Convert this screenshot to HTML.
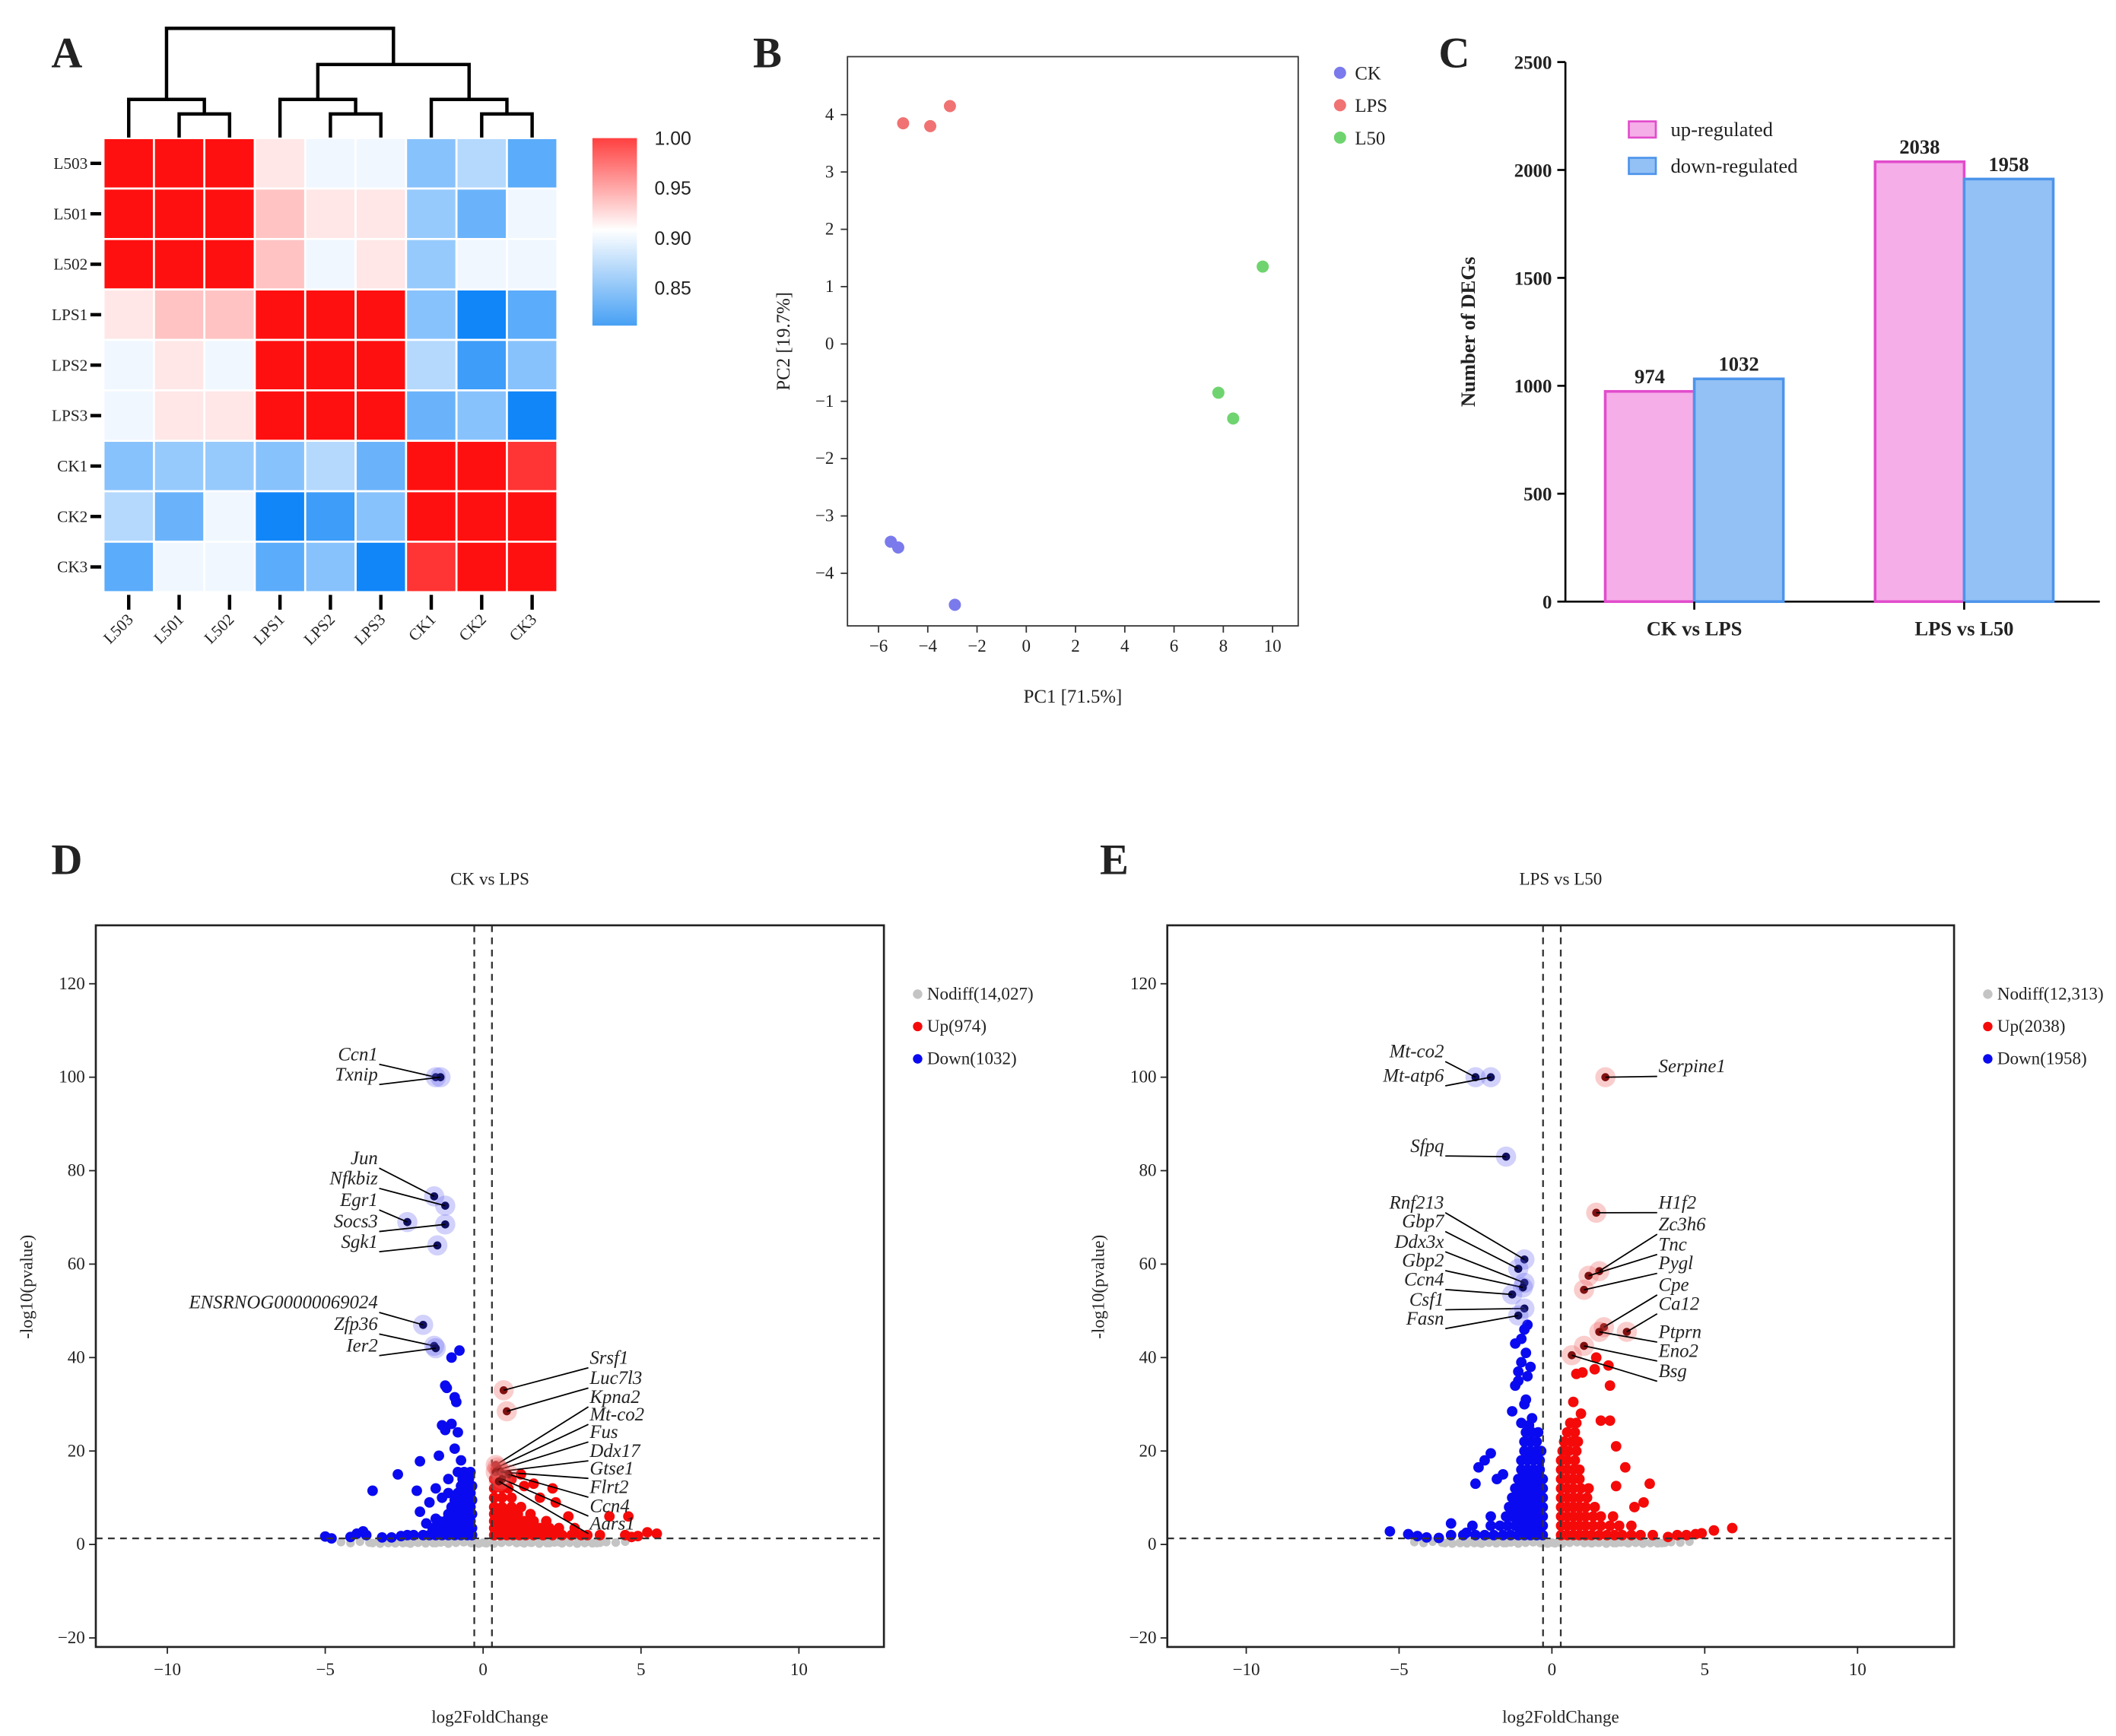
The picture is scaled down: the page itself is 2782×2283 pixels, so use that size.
<!DOCTYPE html>
<html><head><meta charset="utf-8">
<style>
html,body{margin:0;padding:0;background:#fff;}
svg{display:block;}
text{font-family:"Liberation Serif",serif;fill:#222;}
.sans{font-family:"Liberation Sans",sans-serif;}
</style></head>
<body>
<svg id="fig" xmlns="http://www.w3.org/2000/svg" width="2782" height="2283" viewBox="0 0 1568 1287" preserveAspectRatio="none"></svg>
<script>
// ---------- Heatmap data ----------
const hmLabels = ["L503","L501","L502","LPS1","LPS2","LPS3","CK1","CK2","CK3"];
const hmRow0 = [1,1,1,0.91,0.895,0.895,0.86,0.875,0.845];
const hmRow1 = [1,1,1,0.925,0.91,0.91,0.865,0.85,0.895];
const hmRow2 = [1,1,1,0.925,0.895,0.91,0.865,0.895,0.895];
const hmRow3 = [0.91,0.925,0.925,1,1,1,0.86,0.82,0.845];
const hmRow4 = [0.895,0.91,0.895,1,1,1,0.875,0.835,0.86];
const hmRow5 = [0.895,0.91,0.91,1,1,1,0.85,0.86,0.82];
const hmRow6 = [0.86,0.865,0.865,0.86,0.875,0.85,1,1,0.985];
const hmRow7 = [0.875,0.85,0.895,0.82,0.835,0.86,1,1,1];
const hmRow8 = [0.845,0.895,0.895,0.845,0.86,0.82,0.985,1,1];
const hmMatrix = [hmRow0,hmRow1,hmRow2,hmRow3,hmRow4,hmRow5,hmRow6,hmRow7,hmRow8];
const cbTicks = [1.00,0.95,0.90,0.85];

// ---------- PCA data ----------
const pcaGroups = ["CK","LPS","L50"];
const pcaCK = [[-5.5,-3.45],[-5.2,-3.55],[-2.9,-4.55]];
const pcaLPS = [[-5.0,3.85],[-3.9,3.8],[-3.1,4.15]];
const pcaL50 = [[9.6,1.35],[7.8,-0.85],[8.4,-1.3]];
const pcaXTicks = [-6,-4,-2,0,2,4,6,8,10];
const pcaYTicks = [-4,-3,-2,-1,0,1,2,3,4];

// ---------- Bar data ----------
const barCats = ["CK vs LPS","LPS vs L50"];
const barUp = [974,2038];
const barDown = [1032,1958];
const barYTicks = [0,500,1000,1500,2000,2500];

// ---------- Volcano data ----------
const volXTicks = [-10,-5,0,5,10];
const volYTicks = [-20,0,20,40,60,80,100,120];
const dDown = [[-5,1.7],[-4.8,1.3],[-4.2,1.6],[-4,2.3],[-3.8,2.8],[-3.7,2],[-3.5,11.5],[-3.2,1.5],[-2.9,1.5],[-2.7,15],[-2.6,1.8],[-2.4,2],[-2.1,11.5],[-2,17.8],[-2,7],[-1.8,4.5],[-1.7,9],[-1.6,2.5],[-1.5,5.5],[-1.5,12],[-1.4,19],[-1.3,10],[-1.3,25.5],[-1.2,24.5],[-1.2,34],[-1.15,33.5],[-1.1,11],[-1.1,14],[-1,40],[-1,25.8],[-0.9,31.5],[-0.85,30.5],[-0.9,20.5],[-0.75,41.5],[-0.8,24],[-0.8,15.5],[-0.7,18],
[-2.2,2],[-1.9,2],[-1.7,2],[-1.5,2],[-1.3,2],[-1.1,2],[-0.9,2],[-0.7,2],[-0.5,2],[-0.35,2],
[-1.6,3.5],[-1.3,3.5],[-1.1,3.5],[-0.9,3.5],[-0.7,3.5],[-0.5,3.5],[-0.35,3.5],
[-1.4,5],[-1.2,5],[-1.0,5],[-0.8,5],[-0.6,5],[-0.4,5],
[-1.1,6.5],[-0.9,6.5],[-0.7,6.5],[-0.5,6.5],[-0.35,6.5],
[-1.0,8],[-0.8,8],[-0.6,8],[-0.4,8],
[-0.9,9.5],[-0.7,9.5],[-0.5,9.5],[-0.35,9.5],
[-0.8,11],[-0.6,11],[-0.4,11],[-0.7,12.5],[-0.5,12.5],[-0.35,12.5],
[-0.65,14],[-0.45,14],[-0.6,15.5],[-0.4,15.5]];
const dUp = [[0.35,2],[0.55,2],[0.75,2],[0.95,2],[1.15,2],[1.35,2],[1.6,2],[1.9,2],[2.2,2],[2.5,2],[2.8,2],[3.1,2],[3.3,2],[3.7,2],[4.5,2],[4.7,1.6],[4.9,1.8],[5.2,2.6],[5.5,2.3],
[0.35,3.5],[0.55,3.5],[0.75,3.5],[0.95,3.5],[1.2,3.5],[1.5,3.5],[1.8,3.5],[2.1,3.5],[2.4,3.5],[2.9,3.5],
[0.35,5],[0.55,5],[0.75,5],[1.0,5],[1.3,5],[1.6,5],[2.0,5],
[0.35,6.5],[0.55,6.5],[0.8,6.5],[1.1,6.5],[1.5,6.5],
[0.35,8],[0.6,8],[0.9,8],[1.2,8],[0.35,10],[0.6,10],[0.9,10],
[0.35,12],[0.6,12],[0.8,12],[0.35,14],[0.55,14],[0.4,16],
[1.3,12.5],[1.6,13],[2.2,12],[2.3,9],[1.8,10],[2.7,6],[4,6],[4.6,6],[1.2,15],[0.9,14]];
const eDown = [[-5.3,2.8],[-4.7,2.2],[-4.4,1.8],[-4.1,1.5],[-3.7,1.4],[-3.3,4.5],[-2.8,2.5],[-2.5,13],[-2.4,16.5],[-2.2,18],[-2,19.5],[-1.8,14],[-1.6,15],[-1.3,28.5],[-1,26],[-0.9,30],[-0.85,31],[-1.2,34],[-0.8,36],[-1.1,37],[-0.7,38],[-1,39],[-0.85,41],[-1.2,43],[-1,44],[-0.9,46],[-0.8,47],[-1.1,35],[-0.75,25.5],[-0.65,27],
[-3.3,2],[-2.9,2],[-2.5,2],[-2.2,2],[-1.9,2],[-1.6,2],[-1.35,2],[-1.1,2],[-0.9,2],[-0.7,2],[-0.5,2],[-0.3,2],
[-2.6,4],[-2.0,4],[-1.7,4],[-1.45,4],[-1.2,4],[-1.0,4],[-0.8,4],[-0.6,4],[-0.4,4],[-0.3,4],
[-2.0,6],[-1.5,6],[-1.3,6],[-1.1,6],[-0.9,6],[-0.7,6],[-0.5,6],[-0.3,6],
[-1.4,8],[-1.2,8],[-1.0,8],[-0.8,8],[-0.6,8],[-0.4,8],[-0.3,8],
[-1.3,10],[-1.1,10],[-0.9,10],[-0.7,10],[-0.5,10],[-0.3,10],
[-1.2,12],[-1.0,12],[-0.8,12],[-0.6,12],[-0.4,12],[-0.3,12],
[-1.1,14],[-0.9,14],[-0.7,14],[-0.5,14],[-0.3,14],
[-1.0,16],[-0.8,16],[-0.6,16],[-0.4,16],[-1.0,18],[-0.8,18],[-0.6,18],[-0.4,18],
[-0.9,20],[-0.7,20],[-0.5,20],[-0.35,20],[-0.9,22],[-0.7,22],[-0.5,22],[-0.85,24],[-0.65,24],[-0.45,24]];
const eUp = [[5.9,3.5],[5.3,3],[4.9,2.4],[3.2,13],[3,9],[2.7,8],[2.4,16.5],[2.1,12.5],[2.1,21],[1.6,26.5],[1.9,26.5],[0.7,30.5],[0.8,36.5],[1,36.8],[1.4,37.5],[1.85,38.3],[1.9,34],[1.45,40],[0.95,28],
[0.3,2],[0.5,2],[0.7,2],[0.9,2],[1.1,2],[1.3,2],[1.55,2],[1.8,2],[2.05,2],[2.3,2],[2.6,2],[2.9,2],[3.3,2],[3.8,1.6],[4.1,2],[4.4,2],[4.7,2.2],
[0.3,4],[0.5,4],[0.7,4],[0.9,4],[1.1,4],[1.35,4],[1.6,4],[1.9,4],[2.2,4],[2.6,4],
[0.3,6],[0.5,6],[0.7,6],[0.9,6],[1.1,6],[1.35,6],[1.6,6],[2.0,6],
[0.3,8],[0.5,8],[0.7,8],[0.9,8],[1.1,8],[1.4,8],
[0.3,10],[0.5,10],[0.7,10],[0.9,10],[1.15,10],
[0.3,12],[0.5,12],[0.7,12],[0.95,12],[1.2,12],
[0.3,14],[0.5,14],[0.7,14],[0.9,14],[0.3,16],[0.5,16],[0.7,16],[0.9,16],
[0.3,18],[0.5,18],[0.75,18],[0.35,20],[0.55,20],[0.8,20],[0.4,22],[0.65,22],[0.85,22],[0.5,24],[0.75,24],[0.6,26],[0.8,26]];
const greyX = [-4.5,-4.2,-3.9,-3.6,-3.3,-3.0,-2.7,-2.4,-2.1,-1.8,-1.5,-1.2,-0.9,-0.6,-0.3,0,0.3,0.6,0.9,1.2,1.5,1.8,2.1,2.4,2.7,3.0,3.3,3.6,3.9,4.2,4.5];
const greyY = [0.5,0.3,0.6,0.4,0.5,0.3,0.6,0.4,0.5,0.7,0.3,0.6,0.8,0.5,0.3,0.4,0.3,0.6,0.8,0.5,0.4,0.6,0.3,0.5,0.7,0.4,0.6,0.3,0.5,0.4,0.6];
const dLabNames = ["Ccn1","Txnip","Jun","Nfkbiz","Egr1","Socs3","Sgk1","ENSRNOG00000069024","Zfp36","Ier2","Srsf1","Luc7l3","Kpna2","Mt-co2","Fus","Ddx17","Gtse1","Flrt2","Ccn4","Aars1"];
const dLabPts = [[-1.5,100],[-1.35,100],[-1.55,74.5],[-1.2,72.5],[-2.4,69],[-1.2,68.5],[-1.45,64],[-1.9,47],[-1.55,42.5],[-1.5,42],[0.65,33],[0.75,28.5],[0.4,17],[0.45,16.5],[0.5,16],[0.4,15.5],[0.55,15.5],[0.8,15],[0.6,14],[0.5,13.5]];
const dLabY = [786,801,863,878,894,910,925,970,986,1002,1011,1026,1040,1053,1066,1080,1093,1107,1121,1134];
const eLabNames = ["Mt-co2","Mt-atp6","Sfpq","Rnf213","Gbp7","Ddx3x","Gbp2","Ccn4","Csf1","Fasn","Serpine1","H1f2","Zc3h6","Tnc","Pygl","Cpe","Ca12","Ptprn","Eno2","Bsg"];
const eLabPts = [[-2.5,100],[-2.0,100],[-1.5,83],[-0.9,61],[-1.1,59],[-0.9,56],[-0.95,55],[-1.3,53.5],[-0.9,50.5],[-1.1,49],[1.75,100],[1.45,71],[1.55,58.5],[1.2,57.5],[1.05,54.5],[1.7,46.5],[2.45,45.5],[1.55,45.5],[1.05,42.5],[0.65,40.5]];
const eLabY = [784,802,854,896,910,925,939,953,968,982,795,896,912,927,941,957,971,992,1006,1021];

const NS = "http://www.w3.org/2000/svg";
const svg = document.getElementById('fig');
function el(tag, attrs, name, parent, interact){
  const e = document.createElementNS(NS, tag);
  for (const k in attrs) e.setAttribute(k, attrs[k]);
  
  
  (parent || svg).appendChild(e);
  return e;
}
function tx(x,y,s,name,attrs,parent){
  const e = el('text', Object.assign({x:x,y:y}, attrs||{}), name, parent);
  e.textContent = s;
  return e;
}

tx(38,50,"A","panel-label-a",{"font-size":32,"font-weight":"bold"});
tx(558,50,"B","panel-label-b",{"font-size":32,"font-weight":"bold"});
tx(1066,50,"C","panel-label-c",{"font-size":32,"font-weight":"bold"});
tx(38,648,"D","panel-label-d",{"font-size":32,"font-weight":"bold"});
tx(815,648,"E","panel-label-e",{"font-size":32,"font-weight":"bold"});

// ---------- Panel A ----------
(function(){
  const g = el('g',{},'correlation-heatmap');
  const L=76.7, T=102.4, cw=(413-76.7)/9, ch=(439-102.4)/9;
  function col(v){
    let r,gg,b;
    if (v>=0.9){ const t=Math.min(1,(v-0.9)/0.1); r=255; gg=Math.round(255-t*(255-16)); b=Math.round(255-t*(255-16)); }
    else { const t=Math.min(1,(0.9-v)/0.08); r=Math.round(255-t*(255-17)); gg=Math.round(255-t*(255-134)); b=Math.round(255-t*(255-248)); }
    return `rgb(${r},${gg},${b})`;
  }
  for (let i=0;i<9;i++) for (let j=0;j<9;j++){
    el('rect',{x:L+j*cw,y:T+i*ch,width:cw,height:ch,fill:col(hmMatrix[i][j]),stroke:"#fff","stroke-width":1.5},'heatmap-cell',g,true);
  }
  for (let i=0;i<9;i++){
    const cy=T+(i+0.5)*ch;
    el('line',{x1:67,y1:cy,x2:75,y2:cy,stroke:"#000","stroke-width":2.5},'row-tick',g);
    tx(65,cy+4,hmLabels[i],'row-label',{"font-size":12,"text-anchor":"end"},g);
    const cx=L+(i+0.5)*cw;
    el('line',{x1:cx,y1:441,x2:cx,y2:452,stroke:"#000","stroke-width":2.5},'col-tick',g);
    tx(cx+4,460,hmLabels[i],'col-label',{"font-size":12,"text-anchor":"end",transform:`rotate(-45 ${cx+4} 460)`},g);
  }
  const c = j=>L+(j+0.5)*cw;
  const d = el('g',{fill:"none",stroke:"#000","stroke-width":2.5},'dendrogram',g);
  const seg = pts=>el('polyline',{points:pts.map(p=>p.join(',')).join(' ')},'dendrogram-branch',d);
  const n12=(c(1)+c(2))/2, nL=(c(0)+n12)/2;
  seg([[c(1),102],[c(1),84.5],[c(2),84.5],[c(2),102]]);
  seg([[c(0),102],[c(0),73.7],[n12,73.7],[n12,84.5]]);
  const n45=(c(4)+c(5))/2, nP=(c(3)+n45)/2;
  seg([[c(4),102],[c(4),84.5],[c(5),84.5],[c(5),102]]);
  seg([[c(3),102],[c(3),73.7],[n45,73.7],[n45,84.5]]);
  const n78=(c(7)+c(8))/2, nC=(c(6)+n78)/2;
  seg([[c(7),102],[c(7),84.5],[c(8),84.5],[c(8),102]]);
  seg([[c(6),102],[c(6),73.7],[n78,73.7],[n78,84.5]]);
  const nR=(nP+nC)/2;
  seg([[nP,73.7],[nP,47.8],[nC,47.8],[nC,73.7]]);
  seg([[nL,73.7],[nL,21],[nR,21],[nR,47.8]]);
  const defs = el('defs',{},'defs',g);
  const lg = el('linearGradient',{id:"cb",x1:0,y1:0,x2:0,y2:1},'colorbar-gradient',defs);
  [["0","#ff4040"],["0.49","#ffffff"],["1","#47a0f4"]].forEach(s=>el('stop',{offset:s[0],"stop-color":s[1]},'gradient-stop',lg));
  el('rect',{x:439,y:102.4,width:33,height:139,fill:"url(#cb)"},'colorbar',g);
  cbTicks.forEach(v=>{
    const y=102.4+(1-v)/0.05*37.0;
    tx(485,y+5,v.toFixed(2),'colorbar-tick-label',{"font-size":14,class:"sans"},g);
  });
})();

// ---------- Panel B ----------
(function(){
  const g = el('g',{},'pca-plot');
  const xs=v=>651+(v+6)*18.25, ys=v=>255-v*42.5;
  el('rect',{x:628,y:42,width:334,height:422,fill:"none",stroke:"#333","stroke-width":1},'pca-axes-frame',g);
  pcaXTicks.forEach(v=>{
    el('line',{x1:xs(v),y1:464,x2:xs(v),y2:469,stroke:"#333"},'x-tick',g);
    tx(xs(v),483,String(v).replace('-','\u2212'),'x-tick-label',{"font-size":13,"text-anchor":"middle"},g);
  });
  pcaYTicks.forEach(v=>{
    el('line',{x1:623,y1:ys(v),x2:628,y2:ys(v),stroke:"#333"},'y-tick',g);
    tx(618,ys(v)+4,String(v).replace('-','\u2212'),'y-tick-label',{"font-size":13,"text-anchor":"end"},g);
  });
  tx(795,521,"PC1 [71.5%]","x-axis-title",{"font-size":14,"text-anchor":"middle"},g);
  tx(585,253,"PC2 [19.7%]","y-axis-title",{"font-size":14,"text-anchor":"middle",transform:"rotate(-90 585 253)"},g);
  const cols={CK:"#7a7aec",LPS:"#f07272",L50:"#6fd46f"};
  const sets={CK:pcaCK,LPS:pcaLPS,L50:pcaL50};
  pcaGroups.forEach((k,i)=>{
    sets[k].forEach(p=>el('circle',{cx:xs(p[0]),cy:ys(p[1]),r:4.5,fill:cols[k]},'pca-point-'+k.toLowerCase(),g,true));
    el('circle',{cx:993,cy:54+i*24,r:4.5,fill:cols[k]},'legend-marker',g);
    tx(1004,59+i*24,k,'legend-entry',{"font-size":14},g);
  });
})();

// ---------- Panel C ----------
(function(){
  const g = el('g',{},'deg-bar-chart');
  const ys=v=>446-v*0.16;
  el('line',{x1:1160,y1:46,x2:1160,y2:446,stroke:"#000","stroke-width":1.5},'y-axis-line',g);
  el('line',{x1:1160,y1:446,x2:1556,y2:446,stroke:"#000","stroke-width":1.5},'x-axis-line',g);
  barYTicks.forEach(v=>{
    el('line',{x1:1154,y1:ys(v),x2:1160,y2:ys(v),stroke:"#000","stroke-width":1.5},'y-tick',g);
    tx(1150,ys(v)+5,String(v),'y-tick-label',{"font-size":14,"font-weight":"bold","text-anchor":"end"},g);
  });
  tx(1093,246,"Number of DEGs","y-axis-title",{"font-size":15,"font-weight":"bold","text-anchor":"middle",transform:"rotate(-90 1093 246)"},g);
  const centers=[1255.5,1455.5], bw=66;
  barCats.forEach((c,i)=>{
    const cx=centers[i];
    el('rect',{x:cx-bw,y:ys(barUp[i]),width:bw,height:446-ys(barUp[i]),fill:"#f5aee8",stroke:"#e24ccc","stroke-width":2},'bar-up-'+i,g,true);
    el('rect',{x:cx,y:ys(barDown[i]),width:bw,height:446-ys(barDown[i]),fill:"#93c1f5",stroke:"#4d94ea","stroke-width":2},'bar-down-'+i,g,true);
    tx(cx-bw/2,ys(barUp[i])-6,String(barUp[i]),'bar-value',{"font-size":15,"font-weight":"bold","text-anchor":"middle"},g);
    tx(cx+bw/2,ys(barDown[i])-6,String(barDown[i]),'bar-value',{"font-size":15,"font-weight":"bold","text-anchor":"middle"},g);
    el('line',{x1:cx,y1:446,x2:cx,y2:452,stroke:"#000","stroke-width":1.5},'x-tick',g);
    tx(cx,471,c,'x-tick-label',{"font-size":15,"font-weight":"bold","text-anchor":"middle"},g);
  });
  el('rect',{x:1207,y:90,width:20,height:12,fill:"#f5aee8",stroke:"#e24ccc","stroke-width":1.5},'legend-swatch-up',g);
  tx(1238,101,"up-regulated",'legend-entry',{"font-size":15},g);
  el('rect',{x:1207,y:117,width:20,height:12,fill:"#93c1f5",stroke:"#4d94ea","stroke-width":1.5},'legend-swatch-down',g);
  tx(1238,128,"down-regulated",'legend-entry',{"font-size":15},g);
})();

// ---------- Volcano ----------
function volcano(o){
  const g = el('g',{},o.name);
  const xs=v=>o.x0+v*o.k, ys=v=>1145-v*3.464;
  const clip = el('clipPath',{id:o.name+'-clip'},'clip',g);
  el('rect',{x:o.L,y:686,width:o.R-o.L,height:535},'clip-rect',clip);
  const pg = el('g',{"clip-path":`url(#${o.name}-clip)`},'plot-area',g);
  greyX.forEach((x,i)=>el('circle',{cx:xs(x),cy:ys(greyY[i]),r:3.2,fill:"#c4c4c4"},'point-nodiff',pg));
  greyX.forEach((x,i)=>el('circle',{cx:xs(x*0.8+0.1),cy:ys(greyY[i]*0.6),r:3.2,fill:"#c4c4c4"},'point-nodiff',pg));
  o.down.forEach(p=>el('circle',{cx:xs(p[0]),cy:ys(p[1]),r:3.9,fill:"#0a0af0"},'point-down',pg));
  o.up.forEach(p=>el('circle',{cx:xs(p[0]),cy:ys(p[1]),r:3.9,fill:"#f50a0a"},'point-up',pg));
  el('line',{x1:xs(-o.fc),y1:686,x2:xs(-o.fc),y2:1221,stroke:"#333","stroke-width":1.3,"stroke-dasharray":"5,4"},'fc-threshold-left',pg);
  el('line',{x1:xs(o.fc),y1:686,x2:xs(o.fc),y2:1221,stroke:"#333","stroke-width":1.3,"stroke-dasharray":"5,4"},'fc-threshold-right',pg);
  el('line',{x1:o.L,y1:ys(1.3),x2:o.R,y2:ys(1.3),stroke:"#333","stroke-width":1.3,"stroke-dasharray":"5,4"},'pvalue-threshold',pg);
  o.labs.forEach((n,i)=>{
    const p=o.pts[i], left=p[0]<0;
    const halo=left?"rgba(90,90,240,0.28)":"rgba(240,90,90,0.3)";
    const px=xs(p[0]), py=ys(p[1]), ly=o.ly[i];
    el('circle',{cx:px,cy:py,r:7.5,fill:halo},'highlight-halo',g);
    el('circle',{cx:px,cy:py,r:3,fill:left?"#101060":"#801010"},'highlight-point',g);
    const tX=left?o.lx:o.rx;
    el('line',{x1:tX,y1:ly+3,x2:px,y2:py,stroke:"#000","stroke-width":1},'label-leader',g);
    tx(left?tX-1:tX+1,ly,n,'gene-label',{"font-size":14,"font-style":"italic","text-anchor":left?"end":"start"},g);
  });
  el('rect',{x:o.L,y:686,width:o.R-o.L,height:535,fill:"none",stroke:"#222","stroke-width":1.5},'axes-frame',g);
  volXTicks.forEach(v=>{
    el('line',{x1:xs(v),y1:1221,x2:xs(v),y2:1226,stroke:"#222"},'x-tick',g);
    tx(xs(v),1242,String(v).replace('-','\u2212'),'x-tick-label',{"font-size":13,"text-anchor":"middle"},g);
  });
  volYTicks.forEach(v=>{
    el('line',{x1:o.L-5,y1:ys(v),x2:o.L,y2:ys(v),stroke:"#222"},'y-tick',g);
    tx(o.L-8,ys(v)+4,String(v).replace('-','\u2212'),'y-tick-label',{"font-size":13,"text-anchor":"end"},g);
  });
  const mid=(o.L+o.R)/2;
  tx(mid,656,o.title,'plot-title',{"font-size":13,"text-anchor":"middle"},g);
  tx(mid,1277,"log2FoldChange",'x-axis-title',{"font-size":13,"text-anchor":"middle"},g);
  tx(o.L-47,954,"-log10(pvalue)",'y-axis-title',{"font-size":13,"text-anchor":"middle",transform:`rotate(-90 ${o.L-47} 954)`},g);
  const lc=["#c4c4c4","#f50a0a","#0a0af0"];
  o.leg.forEach((s,i)=>{
    el('circle',{cx:o.R+25,cy:737+i*24,r:3.5,fill:lc[i]},'legend-marker',g);
    tx(o.R+32,741+i*24,s,'legend-entry',{"font-size":13},g);
  });
}
volcano({name:"volcano-ck-vs-lps",L:71,R:655,x0:358,k:23.4,fc:0.28,down:dDown,up:dUp,labs:dLabNames,pts:dLabPts,ly:dLabY,lx:281,rx:436,title:"CK vs LPS",leg:["Nodiff(14,027)","Up(974)","Down(1032)"]});
volcano({name:"volcano-lps-vs-l50",L:865,R:1448,x0:1150,k:22.65,fc:0.29,down:eDown,up:eUp,labs:eLabNames,pts:eLabPts,ly:eLabY,lx:1071,rx:1228,title:"LPS vs L50",leg:["Nodiff(12,313)","Up(2038)","Down(1958)"]});
</script>
</body></html>
